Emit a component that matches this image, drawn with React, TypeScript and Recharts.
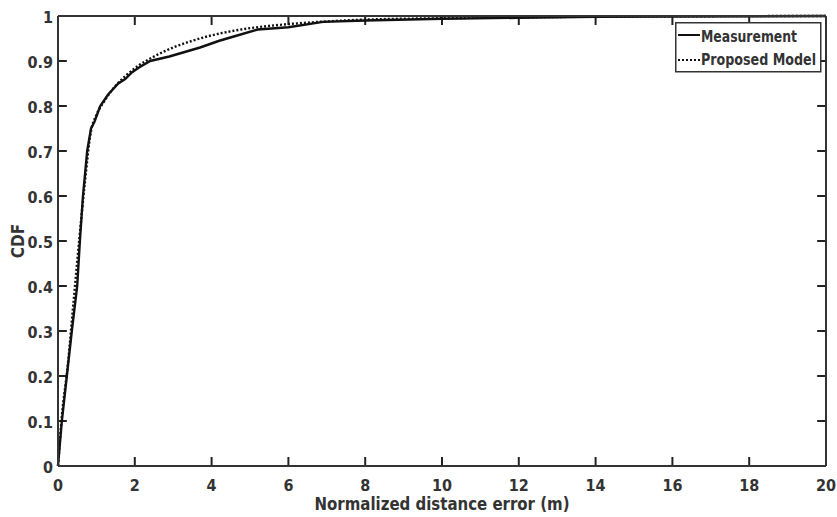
import React from "react";
import { LineChart, Line, XAxis, YAxis, ReferenceLine } from "recharts";

const measX = [0, 0.1, 0.23, 0.36, 0.5, 0.57, 0.65, 0.76, 0.86, 0.95, 1.1, 1.3, 1.57, 1.75, 1.93, 2.1, 2.4, 2.9, 3.3, 3.7, 4.2, 4.6, 5.2, 6.0, 6.9, 8, 10, 12, 14, 16, 20];
const measY = [0, 0.1, 0.2, 0.3, 0.4, 0.5, 0.6, 0.7, 0.75, 0.765, 0.8, 0.825, 0.85, 0.86, 0.875, 0.885, 0.9, 0.91, 0.92, 0.93, 0.945, 0.955, 0.97, 0.975, 0.987, 0.99, 0.994, 0.996, 0.998, 0.999, 1];

const modelX = [0, 0.1, 0.25, 0.4, 0.55, 0.7, 0.85, 1.0, 1.2, 1.5, 1.8, 2.1, 2.5, 3, 3.5, 4, 4.5, 5, 5.5, 6, 7, 8, 10, 12, 15, 20];
const modelY = [0, 0.11, 0.22, 0.36, 0.5, 0.63, 0.74, 0.78, 0.81, 0.845, 0.87, 0.89, 0.91, 0.93, 0.945, 0.957, 0.966, 0.973, 0.978, 0.982, 0.988, 0.992, 0.995, 0.997, 0.999, 1];

const xTicks = [0, 2, 4, 6, 8, 10, 12, 14, 16, 18, 20];
const yTicks = [0, 0.1, 0.2, 0.3, 0.4, 0.5, 0.6, 0.7, 0.8, 0.9, 1];
const seriesNames = ["Measurement", "Proposed Model"];

const measurement = measX.map((x, i) => ({ x, y: measY[i] }));
const model = modelX.map((x, i) => ({ x, y: modelY[i] }));

const X_MIN = 0;
const X_MAX = 20;
const Y_MIN = 0;
const Y_MAX = 1;
// inward tick length in data units (about 9px on each axis)
const TICK_DX = 0.23;
const TICK_DY = 0.02;

const innerX = xTicks.filter((t) => t > X_MIN && t < X_MAX);
const innerY = yTicks.filter((t) => t > Y_MIN && t < Y_MAX);

const FONT = "'DejaVu Sans Condensed', 'DejaVu Sans', sans-serif";
const AXIS = "#333";
const INK = "#111";
const TICK_STROKE = "#222";

const BottomTick = (props: any) => {
  const { x, y, payload } = props;
  return (
    <text x={x} y={y + 25} textAnchor="middle" fontFamily={FONT} fontWeight="bold" fontSize={16} fill={AXIS}>
      {payload.value}
    </text>
  );
};

const LeftTick = (props: any) => {
  const { x, y, payload } = props;
  return (
    <text x={x - 5} y={y + 7} textAnchor="end" fontFamily={FONT} fontWeight="bold" fontSize={16} fill={AXIS}>
      {payload.value}
    </text>
  );
};

const NoLabel = () => <g />;

const XLabel = (props: any) => {
  const { viewBox } = props;
  const cx = viewBox.x + viewBox.width / 2;
  return (
    <text x={cx} y={viewBox.y + 44} textAnchor="middle" fontFamily={FONT} fontWeight="bold" fontSize={17} fill={AXIS} textLength={255} lengthAdjust="spacingAndGlyphs">
      Normalized distance error (m)
    </text>
  );
};

const YLabel = (props: any) => {
  const { viewBox } = props;
  const cy = viewBox.y + viewBox.height / 2;
  return (
    <text x={24} y={cy} transform={`rotate(-90 24 ${cy})`} textAnchor="middle" fontFamily={FONT} fontWeight="bold" fontSize={17} fill={AXIS}>
      CDF
    </text>
  );
};

const LegendBox = () => (
  <svg width={160} height={51} style={{ position: "absolute", left: 675, top: 22, overflow: "visible" }}>
    <rect x={0.75} y={0.75} width={145} height={49} fill="#fff" stroke={AXIS} strokeWidth={1.5} />
    <line x1={3} y1={13} x2={25} y2={13} stroke={INK} strokeWidth={2} />
    <text x={26} y={20} fontFamily={FONT} fontWeight="bold" fontSize={16} fill={AXIS} textLength={96} lengthAdjust="spacingAndGlyphs">
      {seriesNames[0]}
    </text>
    <line x1={3} y1={38} x2={25} y2={38} stroke={INK} strokeWidth={2} strokeDasharray="2 2" />
    <text x={26} y={43} fontFamily={FONT} fontWeight="bold" fontSize={16} fill={AXIS} textLength={115} lengthAdjust="spacingAndGlyphs">
      {seriesNames[1]}
    </text>
  </svg>
);

export default function App() {
  return (
    <div style={{ position: "absolute", left: 0, top: 0, width: 837, height: 517, background: "#fff" }}>
      <LineChart width={837} height={517} margin={{ top: 15, right: 10, left: 0, bottom: 0 }}>
        <XAxis
          dataKey="x"
          type="number"
          domain={[X_MIN, X_MAX]}
          ticks={xTicks}
          interval={0}
          height={51}
          tickSize={0}
          tickMargin={0}
          tickLine={false}
          tick={<BottomTick />}
          stroke={AXIS}
          strokeWidth={2}
          label={<XLabel />}
        />
        <XAxis
          xAxisId="top"
          orientation="top"
          dataKey="x"
          type="number"
          domain={[X_MIN, X_MAX]}
          ticks={xTicks}
          height={1}
          tickLine={false}
          tick={<NoLabel />}
          stroke={AXIS}
          strokeWidth={2}
        />
        <YAxis
          type="number"
          domain={[Y_MIN, Y_MAX]}
          ticks={yTicks}
          interval={0}
          width={58}
          tickSize={0}
          tickMargin={0}
          tickLine={false}
          tick={<LeftTick />}
          stroke={AXIS}
          strokeWidth={2}
          label={<YLabel />}
        />
        <YAxis
          yAxisId="right"
          orientation="right"
          type="number"
          domain={[Y_MIN, Y_MAX]}
          ticks={yTicks}
          width={1}
          tickLine={false}
          tick={<NoLabel />}
          stroke={AXIS}
          strokeWidth={2}
        />
        {innerX.map((t) => (
          <ReferenceLine
            key={`b${t}`}
            segment={[{ x: t, y: Y_MIN }, { x: t, y: Y_MIN + TICK_DY }]}
            stroke={TICK_STROKE}
            strokeWidth={2}
            ifOverflow="visible"
          />
        ))}
        {innerX.map((t) => (
          <ReferenceLine
            key={`t${t}`}
            segment={[{ x: t, y: Y_MAX }, { x: t, y: Y_MAX - TICK_DY }]}
            stroke={TICK_STROKE}
            strokeWidth={2}
            ifOverflow="visible"
          />
        ))}
        {innerY.map((t) => (
          <ReferenceLine
            key={`l${t}`}
            segment={[{ x: X_MIN, y: t }, { x: X_MIN + TICK_DX, y: t }]}
            stroke={TICK_STROKE}
            strokeWidth={2}
            ifOverflow="visible"
          />
        ))}
        {innerY.map((t) => (
          <ReferenceLine
            key={`r${t}`}
            segment={[{ x: X_MAX, y: t }, { x: X_MAX - TICK_DX, y: t }]}
            stroke={TICK_STROKE}
            strokeWidth={2}
            ifOverflow="visible"
          />
        ))}
        <Line
          name={seriesNames[0]}
          data={measurement}
          dataKey="y"
          type="linear"
          stroke={INK}
          strokeWidth={2.4}
          dot={false}
          isAnimationActive={false}
        />
        <Line
          name={seriesNames[1]}
          data={model}
          dataKey="y"
          type="monotone"
          stroke={INK}
          strokeWidth={2.4}
          strokeDasharray="2 2"
          dot={false}
          isAnimationActive={false}
        />
      </LineChart>
      <LegendBox />
    </div>
  );
}
